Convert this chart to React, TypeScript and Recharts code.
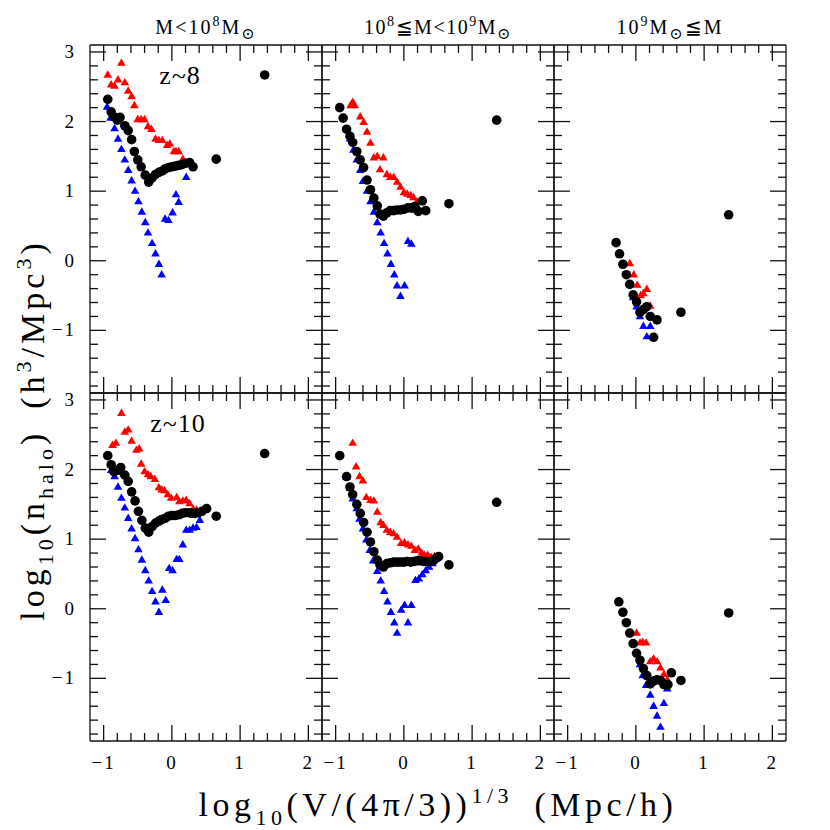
import React from 'react';
import { ScatterChart, Scatter, XAxis, YAxis } from 'recharts';

type Pt = { x: number; y: number };
const toPts = (rows: number[][]): Pt[] => rows.map(([x, y]) => ({ x, y }));

// tick positions and labels
const xTicks = [-1, -0.8, -0.6, -0.4, -0.2, 0, 0.2, 0.4, 0.6, 0.8, 1, 1.2, 1.4, 1.6, 1.8, 2];
const yTicks = [
  -1.8, -1.6, -1.4, -1.2, -1, -0.8, -0.6, -0.4, -0.2, 0, 0.2, 0.4, 0.6, 0.8, 1, 1.2, 1.4, 1.6, 1.8, 2,
  2.2, 2.4, 2.6, 2.8, 3,
];
const X_DOMAIN: [number, number] = [-1.2, 2.2];
const Y_DOMAIN: [number, number] = [-1.9, 3.1];

// z~8, M < 1e8
const z8LowRed = toPts([
  [-0.94, 2.68], [-0.89, 2.54], [-0.84, 2.52], [-0.79, 2.61], [-0.74, 2.85], [-0.69, 2.57],
  [-0.64, 2.45], [-0.59, 2.37], [-0.55, 2.24], [-0.5, 2.04], [-0.45, 2.04], [-0.4, 2.04],
  [-0.35, 1.94], [-0.3, 1.9], [-0.24, 1.76], [-0.19, 1.74], [-0.14, 1.74], [-0.07, 1.67],
  [-0.03, 1.69], [0.03, 1.58], [0.06, 1.58], [0.1, 1.58], [0.16, 1.47], [0.21, 1.41],
]);
const z8LowBlue = toPts([
  [-0.95, 2.22], [-0.9, 2.06], [-0.84, 1.91], [-0.79, 1.76], [-0.74, 1.61], [-0.69, 1.46],
  [-0.64, 1.31], [-0.59, 1.16], [-0.54, 1.01], [-0.49, 0.86], [-0.44, 0.71], [-0.39, 0.56],
  [-0.35, 0.41], [-0.29, 0.26], [-0.24, 0.11], [-0.19, -0.04], [-0.15, -0.19], [-0.1, 0.61],
  [-0.05, 0.59], [0.01, 0.7], [0.1, 0.85], [0.06, 0.96], [0.21, 1.21],
]);
const z8LowBlack = toPts([
  [-0.94, 2.32], [-0.89, 2.14], [-0.85, 2.07], [-0.8, 2.02], [-0.76, 2.06], [-0.69, 1.94],
  [-0.64, 1.87], [-0.59, 1.74], [-0.55, 1.57], [-0.5, 1.45], [-0.45, 1.35], [-0.39, 1.23],
  [-0.34, 1.13], [-0.29, 1.19], [-0.24, 1.24], [-0.19, 1.27], [-0.14, 1.29], [-0.1, 1.32],
  [-0.05, 1.34], [0.0, 1.35], [0.05, 1.36], [0.1, 1.37], [0.15, 1.38], [0.2, 1.4],
  [0.26, 1.41], [0.31, 1.35], [0.65, 1.46], [1.36, 2.67],
]);

// z~8, 1e8 <= M < 1e9
const z8MidRed = toPts([
  [-0.78, 2.24], [-0.75, 2.29], [-0.72, 2.24], [-0.64, 2.08], [-0.59, 2.0], [-0.54, 1.86],
  [-0.49, 1.7], [-0.44, 1.49], [-0.39, 1.51], [-0.3, 1.49], [-0.35, 1.32], [-0.25, 1.25],
  [-0.2, 1.21], [-0.15, 1.21], [-0.1, 1.14], [-0.05, 1.07], [0.0, 0.99], [0.05, 0.97],
  [0.1, 0.95], [0.14, 0.92], [0.19, 0.86],
]);
const z8MidBlue = toPts([
  [-0.84, 1.9], [-0.79, 1.76], [-0.74, 1.6], [-0.69, 1.46], [-0.64, 1.31], [-0.6, 1.15],
  [-0.54, 1.01], [-0.49, 0.86], [-0.44, 0.71], [-0.39, 0.56], [-0.34, 0.41], [-0.29, 0.26],
  [-0.24, 0.11], [-0.19, -0.04], [-0.14, -0.19], [-0.1, -0.35], [-0.05, -0.5], [0.01, -0.35],
  [0.06, 0.29], [0.11, 0.25], [0.16, 0.74], [0.21, 0.76],
]);
const z8MidBlack = toPts([
  [-0.94, 2.2], [-0.89, 2.05], [-0.84, 1.89], [-0.79, 1.79], [-0.75, 1.7], [-0.69, 1.57],
  [-0.64, 1.45], [-0.59, 1.34], [-0.54, 1.16], [-0.49, 1.02], [-0.44, 0.9], [-0.39, 0.79],
  [-0.35, 0.67], [-0.3, 0.64], [-0.25, 0.69], [-0.2, 0.72], [-0.15, 0.72], [-0.1, 0.73],
  [-0.05, 0.73], [0.0, 0.74], [0.06, 0.76], [0.11, 0.76], [0.16, 0.78], [0.21, 0.71],
  [0.27, 0.86], [0.32, 0.72], [0.66, 0.82], [1.36, 2.02],
]);

// z~8, M >= 1e9
const z8HighRed = toPts([
  [-0.09, -0.03], [-0.03, -0.19], [0.02, -0.34], [0.07, -0.49], [0.11, -0.46], [0.16, -0.4],
  [0.21, -0.64],
]);
const z8HighBlue = toPts([
  [-0.04, -0.52], [0.01, -0.65], [0.06, -0.79], [0.11, -0.93], [0.21, -0.93], [0.16, -1.08],
]);
const z8HighBlack = toPts([
  [-0.29, 0.26], [-0.24, 0.1], [-0.19, -0.05], [-0.14, -0.2], [-0.09, -0.34], [-0.04, -0.49],
  [0.01, -0.59], [0.06, -0.74], [0.11, -0.7], [0.16, -0.66], [0.21, -0.8], [0.31, -0.85],
  [0.26, -1.1], [0.66, -0.74], [1.36, 0.66],
]);

// z~10, M < 1e8
const z10LowRed = toPts([
  [-0.87, 2.36], [-0.82, 2.39], [-0.74, 2.82], [-0.69, 2.55], [-0.64, 2.58], [-0.59, 2.42],
  [-0.52, 2.29], [-0.48, 2.31], [-0.45, 2.09], [-0.4, 1.98], [-0.35, 1.94], [-0.31, 1.91],
  [-0.25, 1.87], [-0.19, 1.75], [-0.15, 1.72], [-0.11, 1.71], [-0.06, 1.65], [-0.01, 1.6],
  [0.07, 1.61], [0.11, 1.55], [0.16, 1.56], [0.21, 1.57], [0.26, 1.52], [0.31, 1.44],
  [0.36, 1.43],
]);
const z10LowBlue = toPts([
  [-0.89, 2.0], [-0.84, 1.91], [-0.79, 1.76], [-0.74, 1.6], [-0.69, 1.46], [-0.64, 1.31],
  [-0.59, 1.16], [-0.54, 1.02], [-0.49, 0.86], [-0.44, 0.71], [-0.39, 0.56], [-0.34, 0.41],
  [-0.29, 0.26], [-0.24, 0.11], [-0.19, -0.04], [-0.14, 0.28], [-0.09, 0.13], [-0.04, 0.59],
  [0.01, 0.56], [0.07, 0.72], [0.11, 0.72], [0.16, 0.93], [0.21, 1.14], [0.26, 1.14],
  [0.31, 1.17], [0.36, 1.18], [0.41, 1.28],
]);
const z10LowBlack = toPts([
  [-0.94, 2.2], [-0.89, 2.07], [-0.85, 1.97], [-0.79, 1.99], [-0.75, 2.03], [-0.69, 1.92],
  [-0.64, 1.83], [-0.59, 1.68], [-0.54, 1.55], [-0.49, 1.4], [-0.44, 1.27], [-0.39, 1.16],
  [-0.34, 1.1], [-0.29, 1.18], [-0.24, 1.23], [-0.19, 1.26], [-0.15, 1.28], [-0.1, 1.3],
  [-0.05, 1.33], [0.0, 1.34], [0.05, 1.34], [0.1, 1.35], [0.15, 1.37], [0.2, 1.38],
  [0.25, 1.38], [0.29, 1.37], [0.34, 1.37], [0.39, 1.38], [0.44, 1.4], [0.51, 1.44],
  [0.65, 1.33], [1.36, 2.23],
]);

// z~10, 1e8 <= M < 1e9
const z10MidRed = toPts([
  [-0.75, 2.39], [-0.7, 2.05], [-0.65, 1.91], [-0.6, 1.85], [-0.55, 1.61], [-0.49, 1.57],
  [-0.44, 1.56], [-0.39, 1.4], [-0.34, 1.25], [-0.3, 1.21], [-0.25, 1.14], [-0.2, 1.11],
  [-0.15, 1.09], [-0.1, 1.04], [-0.04, 0.95], [0.01, 0.96], [0.06, 0.93], [0.11, 0.91],
  [0.16, 0.85], [0.21, 0.87], [0.26, 0.81], [0.3, 0.78], [0.35, 0.78], [0.4, 0.75],
  [0.45, 0.76],
]);
const z10MidBlue = toPts([
  [-0.84, 1.9], [-0.79, 1.74], [-0.75, 1.59], [-0.69, 1.45], [-0.65, 1.3], [-0.6, 1.16],
  [-0.55, 1.0], [-0.5, 0.85], [-0.45, 0.7], [-0.39, 0.55], [-0.34, 0.41], [-0.29, 0.26],
  [-0.24, 0.11], [-0.19, -0.04], [-0.14, -0.19], [-0.1, -0.34], [-0.04, -0.01], [0.01, 0.06],
  [0.06, -0.19], [0.11, 0.06], [0.17, 0.42], [0.22, 0.44], [0.27, 0.5], [0.32, 0.56],
  [0.37, 0.61], [0.42, 0.66],
]);
const z10MidBlack = toPts([
  [-0.94, 2.2], [-0.84, 1.9], [-0.79, 1.75], [-0.75, 1.64], [-0.69, 1.5], [-0.64, 1.37],
  [-0.59, 1.24], [-0.54, 1.1], [-0.49, 0.96], [-0.44, 0.82], [-0.39, 0.7], [-0.35, 0.63],
  [-0.3, 0.6], [-0.25, 0.65], [-0.2, 0.66], [-0.15, 0.67], [-0.1, 0.67], [-0.05, 0.67],
  [0.0, 0.67], [0.05, 0.68], [0.1, 0.67], [0.15, 0.68], [0.19, 0.69], [0.24, 0.69],
  [0.29, 0.68], [0.34, 0.68], [0.39, 0.68], [0.44, 0.7], [0.48, 0.73], [0.51, 0.75],
  [0.66, 0.63], [1.36, 1.53],
]);

// z~10, M >= 1e9
const z10HighRed = toPts([
  [0.01, -0.34], [0.06, -0.48], [0.1, -0.47], [0.15, -0.48], [0.21, -0.75], [0.26, -0.71],
  [0.31, -0.75], [0.36, -0.84], [0.41, -0.93], [0.46, -1.01],
]);
const z10HighBlue = toPts([
  [0.06, -0.79], [0.1, -0.95], [0.15, -1.09], [0.21, -1.23], [0.26, -1.39], [0.31, -1.53],
  [0.36, -1.69], [0.41, -1.35], [0.46, -1.14],
]);
const z10HighBlack = toPts([
  [-0.25, 0.1], [-0.19, -0.05], [-0.14, -0.2], [-0.09, -0.35], [-0.04, -0.5], [0.01, -0.64],
  [0.06, -0.74], [0.11, -0.86], [0.16, -0.96], [0.21, -1.08], [0.26, -1.04], [0.31, -1.02],
  [0.36, -1.03], [0.41, -1.09], [0.47, -1.09], [0.52, -0.92], [0.66, -1.03], [1.36, -0.06],
]);

const PANEL_W = 232;
const PANEL_H = 348;
const colLeft = [90, 322, 554];
const rowTop = [45, 393];
const PAD_L = 70;
const PAD_R = 2;
const PAD_T = 20;
const PAD_B = 40;

const FONT = '"Liberation Serif", "DejaVu Serif", serif';
const INK = '#111';
const AXIS_LINE = { stroke: INK, strokeWidth: 1.3 };

const isMajor = (v: number) => Math.abs(v - Math.round(v)) < 1e-6;
const fmt = (v: number) => (v < 0 ? `\u2212${Math.abs(v)}` : `${v}`);

function XTick(props: any) {
  const { x, y, payload, dir, label } = props;
  const v = payload.value;
  const major = isMajor(v);
  const len = major ? 16 : 8;
  return (
    <g>
      <line x1={x} y1={y} x2={x} y2={y + dir * len} stroke={INK} strokeWidth={1.3} />
      {label && major && (
        <text x={x} y={y + 28} textAnchor="middle" fontFamily={FONT} fontSize={19} letterSpacing={2} fill="#000">
          {fmt(v)}
        </text>
      )}
    </g>
  );
}

function YTick(props: any) {
  const { x, y, payload, dir, label } = props;
  const v = payload.value;
  const major = isMajor(v);
  const len = major ? 16 : 8;
  return (
    <g>
      <line x1={x} y1={y} x2={x + dir * len} y2={y} stroke={INK} strokeWidth={1.3} />
      {label && major && (
        <text x={x - 14} y={y + 6} textAnchor="end" fontFamily={FONT} fontSize={19} letterSpacing={2} fill="#000">
          {fmt(v)}
        </text>
      )}
    </g>
  );
}

const triangle = (color: string) => (p: any) => (
  <polygon
    points={`${p.cx},${p.cy - 4} ${p.cx - 4.3},${p.cy + 3.4} ${p.cx + 4.3},${p.cy + 3.4}`}
    fill={color}
  />
);
const dot = (p: any) => <circle cx={p.cx} cy={p.cy} r={4.8} fill="#000" />;

interface PanelProps {
  col: number;
  row: number;
  red: Pt[];
  blue: Pt[];
  black: Pt[];
}

function Panel({ col, row, red, blue, black }: PanelProps) {
  return (
    <div style={{ position: 'absolute', left: colLeft[col] - PAD_L, top: rowTop[row] - PAD_T }}>
      <ScatterChart
        width={PANEL_W + PAD_L + PAD_R}
        height={PANEL_H + PAD_T + PAD_B}
        margin={{ top: 0, right: 0, bottom: 0, left: 0 }}
      >
        <XAxis
          xAxisId="b"
          type="number"
          dataKey="x"
          orientation="bottom"
          domain={X_DOMAIN}
          ticks={xTicks}
          interval={0}
          allowDataOverflow
          height={PAD_B}
          tickSize={0}
          tickMargin={0}
          tickLine={false}
          axisLine={AXIS_LINE}
          tick={(p: any) => <XTick {...p} dir={-1} label={row === 1} />}
        />
        <XAxis
          xAxisId="t"
          type="number"
          dataKey="x"
          orientation="top"
          domain={X_DOMAIN}
          ticks={xTicks}
          interval={0}
          allowDataOverflow
          height={PAD_T}
          tickSize={0}
          tickMargin={0}
          tickLine={false}
          axisLine={AXIS_LINE}
          tick={(p: any) => <XTick {...p} dir={1} label={false} />}
        />
        <YAxis
          yAxisId="l"
          type="number"
          dataKey="y"
          orientation="left"
          domain={Y_DOMAIN}
          ticks={yTicks}
          interval={0}
          allowDataOverflow
          width={PAD_L}
          tickSize={0}
          tickMargin={0}
          tickLine={false}
          axisLine={AXIS_LINE}
          tick={(p: any) => <YTick {...p} dir={1} label={col === 0} />}
        />
        <YAxis
          yAxisId="r"
          type="number"
          dataKey="y"
          orientation="right"
          domain={Y_DOMAIN}
          ticks={yTicks}
          interval={0}
          allowDataOverflow
          width={PAD_R}
          tickSize={0}
          tickMargin={0}
          tickLine={false}
          axisLine={AXIS_LINE}
          tick={(p: any) => <YTick {...p} dir={-1} label={false} />}
        />
        <Scatter xAxisId="b" yAxisId="l" data={red} shape={triangle('#ff0000')} isAnimationActive={false} />
        <Scatter xAxisId="b" yAxisId="l" data={blue} shape={triangle('#0000ff')} isAnimationActive={false} />
        <Scatter xAxisId="b" yAxisId="l" data={black} shape={dot} isAnimationActive={false} />
      </ScatterChart>
    </div>
  );
}

const SUP = 14;

export default function App() {
  return (
    <div style={{ position: 'absolute', left: 0, top: 0, width: 830, height: 830, background: '#fff' }}>
      <Panel col={0} row={0} red={z8LowRed} blue={z8LowBlue} black={z8LowBlack} />
      <Panel col={1} row={0} red={z8MidRed} blue={z8MidBlue} black={z8MidBlack} />
      <Panel col={2} row={0} red={z8HighRed} blue={z8HighBlue} black={z8HighBlack} />
      <Panel col={0} row={1} red={z10LowRed} blue={z10LowBlue} black={z10LowBlack} />
      <Panel col={1} row={1} red={z10MidRed} blue={z10MidBlue} black={z10MidBlack} />
      <Panel col={2} row={1} red={z10HighRed} blue={z10HighBlue} black={z10HighBlack} />
      <svg
        width={830}
        height={830}
        style={{ position: 'absolute', left: 0, top: 0, pointerEvents: 'none' }}
        fontFamily={FONT}
        fill="#000"
      >
        {/* column titles */}
        <text x={206} y={34} textAnchor="middle" fontSize={20} letterSpacing={2}>
          M&lt;10<tspan dy={-8} fontSize={SUP}>8</tspan>
          <tspan dy={8}>M</tspan>
          <tspan dy={5} fontSize={16}>⊙</tspan>
        </text>
        <text x={438} y={34} textAnchor="middle" fontSize={20} letterSpacing={1.5}>
          10<tspan dy={-8} fontSize={SUP}>8</tspan>
          <tspan dy={8}>≦M&lt;10</tspan>
          <tspan dy={-8} fontSize={SUP}>9</tspan>
          <tspan dy={8}>M</tspan>
          <tspan dy={5} fontSize={16}>⊙</tspan>
        </text>
        <text x={670} y={34} textAnchor="middle" fontSize={20} letterSpacing={2}>
          10<tspan dy={-8} fontSize={SUP}>9</tspan>
          <tspan dy={8}>M</tspan>
          <tspan dy={5} fontSize={16}>⊙</tspan>
          <tspan dy={-5}>≦M</tspan>
        </text>

        {/* redshift labels */}
        <text x={180} y={84} textAnchor="middle" fontSize={26} letterSpacing={1}>z~8</text>
        <text x={178} y={432} textAnchor="middle" fontSize={26} letterSpacing={1}>z~10</text>

        {/* x axis title */}
        <text x={438} y={816} textAnchor="middle" fontSize={34} letterSpacing={4.5}>
          log<tspan dy={9} fontSize={22}>10</tspan>
          <tspan dy={-9}>(V/(4π/3))</tspan>
          <tspan dy={-13} fontSize={22}>1/3</tspan>
          <tspan dy={13}>{'\u2002(Mpc/h)'}</tspan>
        </text>

        {/* y axis title */}
        <text transform="translate(44,430) rotate(-90)" textAnchor="middle" fontSize={34} letterSpacing={4}>
          log<tspan dy={9} fontSize={22}>10</tspan>
          <tspan dy={-9}>(n</tspan>
          <tspan dy={9} fontSize={22}>halo</tspan>
          <tspan dy={-9}>{')\u2002(h'}</tspan>
          <tspan dy={-13} fontSize={22}>3</tspan>
          <tspan dy={13}>/Mpc</tspan>
          <tspan dy={-13} fontSize={22}>3</tspan>
          <tspan dy={13}>)</tspan>
        </text>
      </svg>
    </div>
  );
}
